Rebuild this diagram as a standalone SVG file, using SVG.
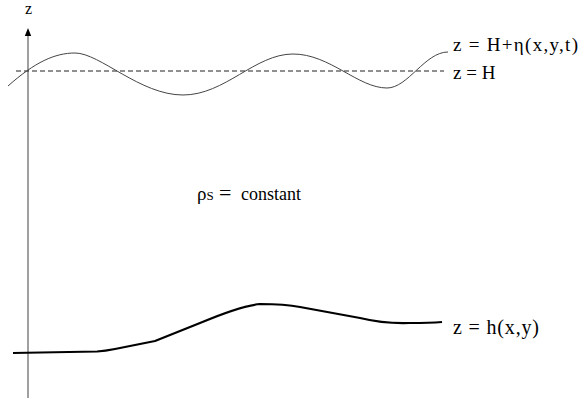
<svg xmlns="http://www.w3.org/2000/svg" width="587" height="399" viewBox="0 0 587 399">
<style>
.lbl { font-size: 19px; font-family: 'Liberation Serif', 'Times New Roman', serif; fill: #000; }
.axis { stroke: #808080; stroke-width: 1.5; fill: none; }
.wave { stroke: #444; stroke-width: 1; fill: none; }
.mean { stroke: #222; stroke-width: 1.2; stroke-dasharray: 5 3; fill: none; }
.bed { stroke: #000; stroke-width: 2.2; fill: none; stroke-linejoin: round; }
</style>
<rect width="587" height="399" fill="#fff"/>
<g id="axis">
  <line class="axis" x1="28" y1="398" x2="28" y2="34"/>
  <polygon points="28,28 24.8,36 31.2,36" fill="#000"/>
  <text class="lbl" x="25" y="14" style="font-size:16px">z</text>
</g>
<g id="connectors">
  <line class="mean" x1="16" y1="71" x2="444" y2="71"/>
  <path class="wave" d="M8,86 C35,62 55,53 75,53 C100,53 140,95 183,95 C225,95 255,54 293,54 C330,54 358,88 387,88 C408,88 425,52 448,52"/>
  <path class="bed" d="M13,353 L97,351.5 Q105,351 115,349 L155,341 L200,323 Q240,306 260,304 Q285,304 300,307 L360,318 Q385,324 410,323 Q430,323 442,322"/>
</g>
<g id="surface-label"><text class="lbl" x="453" y="51" textLength="125" lengthAdjust="spacing">z = H+η(x,y,t)</text></g>
<g id="mean-label"><text class="lbl" x="453" y="79">z = H</text></g>
<g id="density-label"><text class="lbl" x="197" y="200">ρ<tspan style="font-size:13px">S</tspan><tspan x="219" style="font-size:22px">=</tspan><tspan x="241" style="font-size:18px">constant</tspan></text></g>
<g id="bed-label"><text class="lbl" x="453" y="334" style="font-size:20px" textLength="86" lengthAdjust="spacing">z = h(x,y)</text></g>
</svg>
